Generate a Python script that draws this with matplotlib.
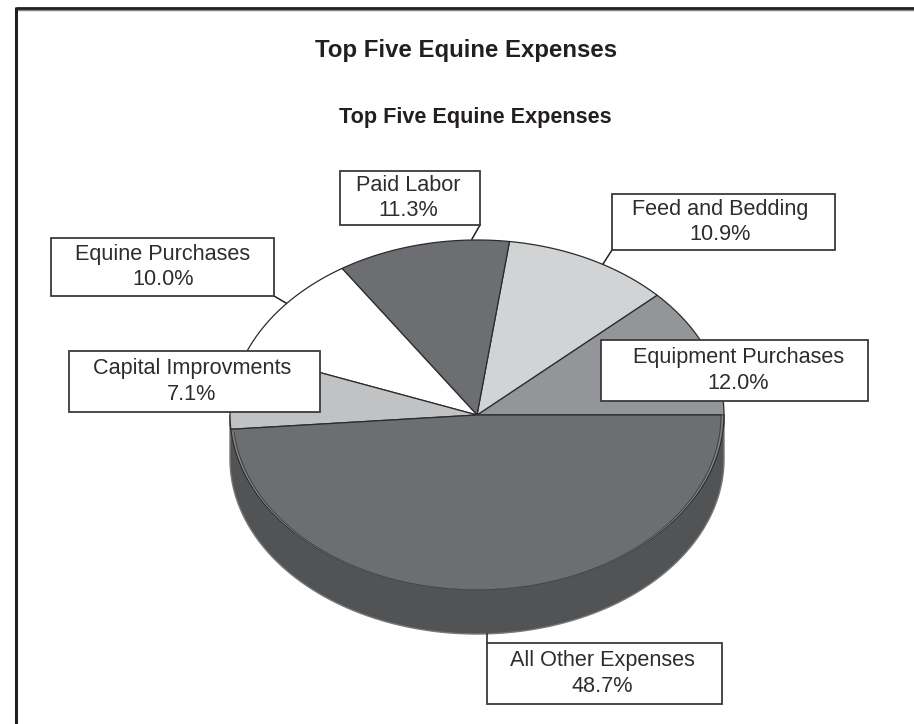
import numpy as np
import matplotlib
matplotlib.use("Agg")
import matplotlib.pyplot as plt
from matplotlib.patches import Polygon, Rectangle

plt.rcParams['font.family'] = ['Liberation Sans', 'DejaVu Sans']

title = "Top Five Equine Expenses"
categories = ["Equipment Purchases", "Feed and Bedding", "Paid Labor",
              "Equine Purchases", "Capital Improvments", "All Other Expenses"]
values = [12.0, 10.9, 11.3, 10.0, 7.1, 48.7]
colors = ["#939598", "#d1d3d4", "#6d6e71", "#ffffff", "#c0c2c4", "#6d6e70"]
boxes = [(601, 340, 868, 401), (612, 194, 835, 250), (340, 171, 480, 225),
         (51, 238, 274, 296), (69, 351, 320, 412), (487, 643, 722, 704)]
text_x = [738.5, 720, 408, 163, 192, 602]
leaders = [None, ((603, 264), (612, 250)), ((472, 239), (480, 225)),
           ((286, 303), (274, 296)), None, ((487, 634), (487, 643))]

CX, CY, RX, RY, DEPTH = 477, 415, 247, 175, 44
WALL = "#525355"
EDGE = "#2b2b2b"
INK = "#2e2c2d"

fig = plt.figure(figsize=(9.14, 7.24), dpi=100)
ax = fig.add_axes([0, 0, 1, 1])
ax.set_xlim(0, 914)
ax.set_ylim(724, 0)
ax.axis("off")


def rim(a0, a1, cy=CY, rx=RX):
    t = np.radians(np.linspace(a0, a1, 240))
    return np.column_stack([CX + rx * np.cos(t), cy - RY * np.sin(t)])


# frame: top and left rules running off the page
ax.plot([16, 914], [9.6, 9.6], color="#808080", lw=1.0, zorder=1)
ax.plot([16, 914], [8, 8], color="#231f20", lw=2.0, zorder=1, solid_capstyle="butt")
ax.plot([16, 16], [7, 724], color="#231f20", lw=2.2, zorder=1, solid_capstyle="butt")

ax.text(466, 50, title, ha="center", va="center", fontsize=17.3, fontweight="bold", color="#231f20")
ax.text(475.5, 117, title, ha="center", va="center", fontsize=15.6, fontweight="bold", color="#231f20")

# side wall, front half only
front = rim(180, 360)
wall = np.vstack([front, rim(360, 180, CY + DEPTH)])
ax.add_patch(Polygon(wall, closed=True, fc=WALL, ec="#77787a", lw=1.0, zorder=2))

# top surface
edges = np.concatenate([[0], np.cumsum(values)]) / sum(values) * 360
for a0, a1, c in zip(edges[:-1], edges[1:], colors):
    pts = np.vstack([[CX, CY], rim(a0, a1)])
    ax.add_patch(Polygon(pts, closed=True, fc=c, ec=EDGE, lw=0.9, zorder=3, joinstyle="round"))

# fine double rule just inside the front rim of the last slice
for inset, col in [(1.5, "#8a8b8d"), (3.0, "#3c3c3e")]:
    ax.plot(*rim(edges[-2] + 1, 360, rx=RX - inset).T, color=col, lw=0.6, zorder=3.5)

# labels
for name, v, box, tx, lead in zip(categories, values, boxes, text_x, leaders):
    x0, y0, x1, y1 = box
    if lead is not None:
        ax.plot(*zip(*lead), color="#231f20", lw=1.1, zorder=4)
    ax.add_patch(Rectangle((x0, y0), x1 - x0, y1 - y0, fc="white", ec="#3a3a3c", lw=1.3, zorder=5))
    ax.text(tx, (y0 + y1) / 2, f"{name}\n{v:.1f}%", ha="center", va="center",
            fontsize=15.6, color=INK, linespacing=1.26, zorder=6)

fig.savefig("out.png", dpi=100)
